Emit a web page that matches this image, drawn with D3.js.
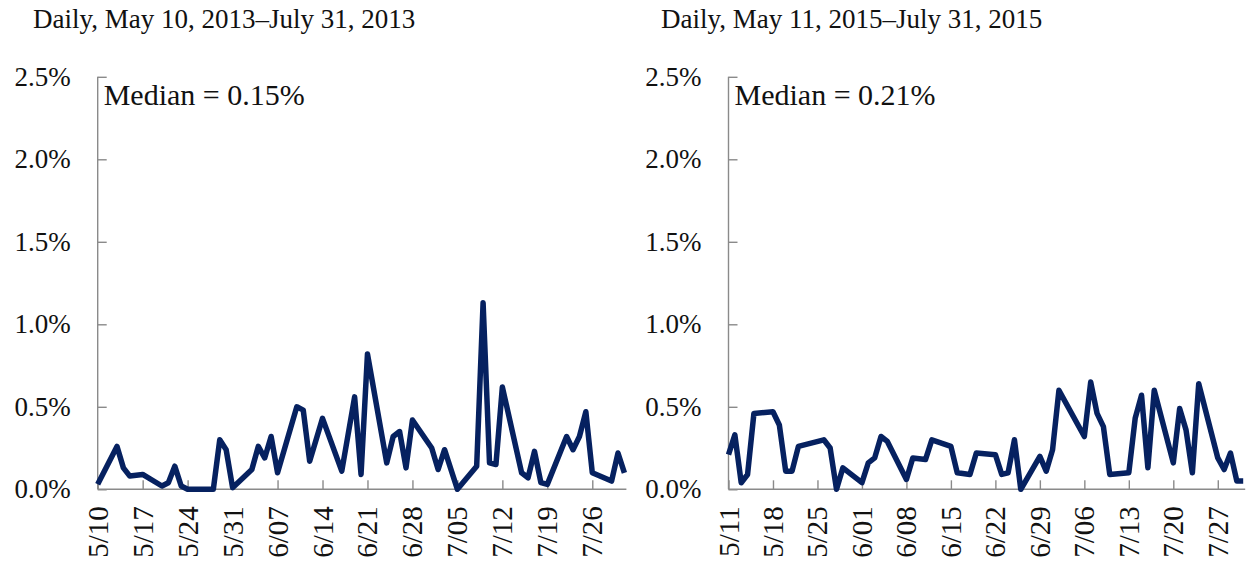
<!DOCTYPE html>
<html><head><meta charset="utf-8">
<script src="https://cdn.jsdelivr.net/npm/d3@7"></script>
<style>
body{margin:0;background:#fff;}
svg{display:block;}
text{font-family:"Liberation Serif","Times New Roman",serif;fill:#111;}
</style></head>
<body>
<svg id="chart" width="1248" height="566"></svg>
<script>
// ---------- DATA ----------
const titles = ["Daily, May 10, 2013\u2013July 31, 2013", "Daily, May 11, 2015\u2013July 31, 2015"];
const medianLabels = ["Median = 0.15%", "Median = 0.21%"];
const yTicks = [0, 0.5, 1.0, 1.5, 2.0, 2.5];

const datesLeft = ["2013-05-10","2013-05-13","2013-05-14","2013-05-15","2013-05-17","2013-05-20","2013-05-21","2013-05-22","2013-05-23","2013-05-24","2013-05-28","2013-05-29","2013-05-30","2013-05-31","2013-06-03","2013-06-04","2013-06-05","2013-06-06","2013-06-07","2013-06-10","2013-06-11","2013-06-12","2013-06-14","2013-06-17","2013-06-19","2013-06-20","2013-06-21","2013-06-24","2013-06-25","2013-06-26","2013-06-27","2013-06-28","2013-07-01","2013-07-02","2013-07-03","2013-07-05","2013-07-08","2013-07-09","2013-07-10","2013-07-11","2013-07-12","2013-07-15","2013-07-16","2013-07-17","2013-07-18","2013-07-19","2013-07-22","2013-07-23","2013-07-24","2013-07-25","2013-07-26","2013-07-29","2013-07-30","2013-07-31"];
const valuesLeft = [0.03,0.26,0.13,0.08,0.09,0.02,0.04,0.14,0.02,0.00,0.00,0.30,0.24,0.01,0.12,0.26,0.19,0.32,0.10,0.50,0.48,0.17,0.43,0.11,0.56,0.09,0.82,0.16,0.32,0.35,0.13,0.42,0.25,0.12,0.24,0.00,0.14,1.13,0.16,0.15,0.62,0.10,0.07,0.23,0.04,0.03,0.32,0.24,0.32,0.47,0.10,0.05,0.22,0.10];

const datesRight = ["2015-05-11","2015-05-12","2015-05-13","2015-05-14","2015-05-15","2015-05-18","2015-05-19","2015-05-20","2015-05-21","2015-05-22","2015-05-26","2015-05-27","2015-05-28","2015-05-29","2015-06-01","2015-06-02","2015-06-03","2015-06-04","2015-06-05","2015-06-08","2015-06-09","2015-06-11","2015-06-12","2015-06-15","2015-06-16","2015-06-18","2015-06-19","2015-06-22","2015-06-23","2015-06-24","2015-06-25","2015-06-26","2015-06-29","2015-06-30","2015-07-01","2015-07-02","2015-07-06","2015-07-07","2015-07-08","2015-07-09","2015-07-10","2015-07-13","2015-07-14","2015-07-15","2015-07-16","2015-07-17","2015-07-20","2015-07-21","2015-07-22","2015-07-23","2015-07-24","2015-07-27","2015-07-28","2015-07-29","2015-07-30","2015-07-31"];
const valuesRight = [0.21,0.33,0.04,0.09,0.46,0.47,0.39,0.11,0.11,0.26,0.30,0.25,0.00,0.13,0.04,0.16,0.19,0.32,0.29,0.06,0.19,0.18,0.30,0.26,0.10,0.09,0.22,0.21,0.09,0.10,0.30,0.00,0.20,0.11,0.24,0.60,0.32,0.65,0.46,0.38,0.09,0.10,0.43,0.57,0.13,0.60,0.16,0.49,0.36,0.10,0.64,0.19,0.12,0.22,0.05,0.05];

const tickDatesLeft = ["2013-05-10","2013-05-17","2013-05-24","2013-05-31","2013-06-07","2013-06-14","2013-06-21","2013-06-28","2013-07-05","2013-07-12","2013-07-19","2013-07-26"];
const tickLabelsLeft = ["5/10","5/17","5/24","5/31","6/07","6/14","6/21","6/28","7/05","7/12","7/19","7/26"];
const tickDatesRight = ["2015-05-11","2015-05-18","2015-05-25","2015-06-01","2015-06-08","2015-06-15","2015-06-22","2015-06-29","2015-07-06","2015-07-13","2015-07-20","2015-07-27"];
const tickLabelsRight = ["5/11","5/18","5/25","6/01","6/08","6/15","6/22","6/29","7/06","7/13","7/20","7/27"];
const domainLeft = ["2013-05-10","2013-07-31"];
const domainRight = ["2015-05-11","2015-07-31"];

// ---------- DRAW ----------
const parse = d3.utcParse("%Y-%m-%d");
const svg = d3.select("#chart");
const lineColor = "#062160";
const axisColor = "#8a8a8a";

const panels = [
  {title: titles[0], median: medianLabels[0], dates: datesLeft, values: valuesLeft, tickDates: tickDatesLeft, tickLabels: tickLabelsLeft, domain: domainLeft, x0: 97.7, x1: 624.4, titleX: 33},
  {title: titles[1], median: medianLabels[1], dates: datesRight, values: valuesRight, tickDates: tickDatesRight, tickLabels: tickLabelsRight, domain: domainRight, x0: 728.5, x1: 1243.2, titleX: 661}
];

const yTop = 76.8, yBot = 489.3;

panels.forEach(p => {
  const g = svg.append("g");
  const x = d3.scaleUtc().domain(p.domain.map(parse)).range([p.x0, p.x1]);
  const y = d3.scaleLinear().domain([0, 2.5]).range([yBot, yTop]);

  g.append("text").attr("x", p.titleX).attr("y", 28).attr("font-size", 27).text(p.title);

  // y axis
  const yAxis = g.append("g").attr("transform", `translate(${p.x0},0)`)
    .call(d3.axisRight(y).tickValues(yTicks).tickSize(9).tickFormat(""));
  yAxis.selectAll("path,line").attr("stroke", axisColor).attr("stroke-width", 1.4);
  yAxis.select(".domain").attr("d", `M0,${yTop}V${yBot}`);
  g.selectAll(".ylab").data(yTicks).join("text")
    .attr("x", p.x0 - 27).attr("y", d => y(d)).attr("text-anchor", "end")
    .attr("dominant-baseline", "central").attr("font-size", 27)
    .text(d => d.toFixed(1) + "%");

  // x axis
  const tickMap = new Map(p.tickDates.map((d, i) => [+parse(d), p.tickLabels[i]]));
  const xAxis = g.append("g").attr("transform", `translate(0,${yBot})`)
    .call(d3.axisTop(x).tickValues(p.tickDates.map(parse)).tickSize(9).tickFormat(""));
  xAxis.selectAll("path,line").attr("stroke", axisColor).attr("stroke-width", 1.4);
  xAxis.select(".domain").attr("d", `M${p.x0},0H${p.x1 + 2}`);
  g.selectAll(".xlab").data(p.tickDates.map(parse)).join("text")
    .attr("transform", d => `translate(${x(d)},${yBot + 17}) rotate(-90)`)
    .attr("text-anchor", "end").attr("dominant-baseline", "central")
    .attr("font-size", 29).text(d => tickMap.get(+d));

  // line
  const data = p.dates.map((d, i) => ({date: parse(d), v: p.values[i]}));
  g.append("path").datum(data)
    .attr("fill", "none").attr("stroke", lineColor).attr("stroke-width", 5.5)
    .attr("stroke-linejoin", "round")
    .attr("d", d3.line().x(d => x(d.date)).y(d => y(d.v)));

  g.append("text").attr("x", p.x0 + 6).attr("y", 105).attr("font-size", 30).text(p.median);
});
</script>
</body></html>
